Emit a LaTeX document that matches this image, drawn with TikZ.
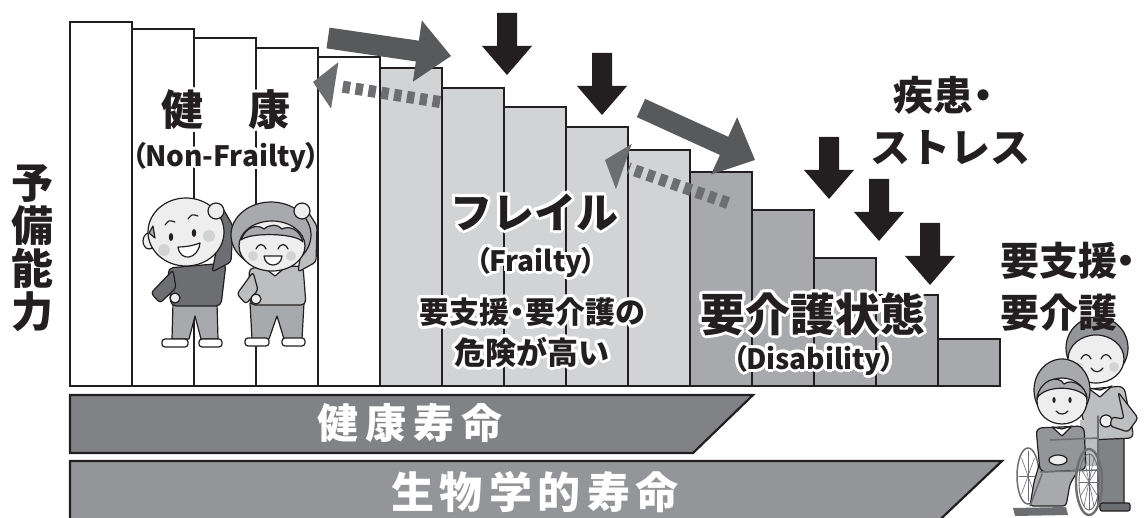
\documentclass[tikz,border=0pt]{standalone}
\usepackage{fontspec}
\setmainfont{Noto Sans CJK JP}
\usetikzlibrary{calc}

\definecolor{barL}{HTML}{D1D3D4}
\definecolor{barM}{HTML}{A7A9AC}
\definecolor{lifeA}{HTML}{808285}
\definecolor{lifeB}{HTML}{939598}
\definecolor{flowC}{HTML}{58595B}
\definecolor{backC}{HTML}{6D6E71}
\definecolor{inkC}{HTML}{231F20}
\definecolor{skinC}{HTML}{EEEEEF}
\definecolor{cheekC}{HTML}{D1D3D4}
\definecolor{hairC}{HTML}{A7A9AC}
\definecolor{clothD}{HTML}{6D6E71}
\definecolor{clothM}{HTML}{A7A9AC}
\definecolor{clothL}{HTML}{BCBEC0}

% text with a white outline
\newcommand\halo[2][3pt]{%
  \begingroup
  \setbox0=\hbox{{\color{white}#2}}%
  \setbox2=\hbox{{#2}}%
  \hbox{%
    \foreach \ang in {0,22.5,...,337.5}{%
      \pgfmathsetlengthmacro\hx{#1*cos(\ang)}%
      \pgfmathsetlengthmacro\hy{#1*sin(\ang)}%
      \rlap{\kern\hx\raise\hy\copy0}%
    }%
    \box2}%
  \endgroup}

% solid block arrow: style, from, to, half shaft, half head, head length
\newcommand\blockarrow[6]{%
  \coordinate (ba-b) at ($(#3)!#6!(#2)$);
  \fill[#1] ($(#2)!#4!90:(#3)$) -- ($(ba-b)!#4!90:(#3)$) -- ($(ba-b)!#5!90:(#3)$)
    -- (#3) -- ($(ba-b)!#5!-90:(#3)$) -- ($(ba-b)!#4!-90:(#3)$) -- ($(#2)!#4!-90:(#3)$) -- cycle;}

% dashed arrow: from, to, half head, head length, shaft end distance
\newcommand\dashedarrow[5]{%
  \coordinate (da-b) at ($(#2)!#4!(#1)$);
  \coordinate (da-g) at ($(#2)!#5!(#1)$);
  \draw[backdash] (#1) -- (da-g);
  \fill[backC] ($(da-b)!#3!90:(#2)$) -- (#2) -- ($(da-b)!#3!-90:(#2)$) -- cycle;}

\begin{document}
\begin{tikzpicture}[x=1pt,y=-1pt,
  barline/.style={draw=inkC, line width=2.4pt},
  lifebar/.style={draw=inkC, line width=2.2pt},
  fig/.style={draw=inkC, line width=1.2pt, line join=round, line cap=round},
  chair/.style={draw=backC, line width=1.5pt, line cap=round},
  backdash/.style={draw=backC, line width=12pt, dash pattern=on 7.5pt off 5.5pt},
  lbl/.style={inner sep=0pt, text=inkC},
  jpL/.style={lbl, font=\fontsize{42pt}{46pt}\selectfont\bfseries},
  jpM/.style={lbl, font=\fontsize{40pt}{44pt}\selectfont\bfseries},
  jpS/.style={lbl, font=\fontsize{30pt}{34pt}\selectfont\bfseries},
  enS/.style={lbl, font=\fontsize{28pt}{32pt}\selectfont\bfseries},
  lifetext/.style={inner sep=0pt, text=white, font=\fontsize{42pt}{46pt}\selectfont\bfseries}
]
\useasboundingbox (0,0) rectangle (1145,518);

% reserve capacity steps
\foreach \i/\t/\c in {0/22/white,1/29/white,2/38/white,3/48/white,4/57/white,
  5/68/barL,6/88/barL,7/107/barL,8/127/barL,9/150/barL,
  10/172/barM,11/210/barM,12/258/barM,13/295/barM,14/339/barM}
  \draw[barline, fill=\c] ({70+62*\i},\t) rectangle ({132+62*\i},386);

% life span bands
\draw[lifebar, fill=lifeA] (70,395) -- (753,395) -- (693,453) -- (70,453) -- cycle;
\draw[lifebar, fill=lifeB] (70,461) -- (1002,461) -- (929,530) -- (70,530) -- cycle;
\node[lifetext, font=\fontsize{41pt}{45pt}\selectfont\bfseries] (healthspan) at (410,423) {健\kern7pt 康\kern7pt 寿\kern7pt 命};
\node[lifetext, font=\fontsize{43pt}{47pt}\selectfont\bfseries] (lifespan) at (535,492) {生\kern6pt 物\kern6pt 学\kern6pt 的\kern6pt 寿\kern6pt 命};

% transitions between stages
\coordinate (backA-s) at (440,102);
\coordinate (backA-e) at (313,82);
\coordinate (backB-s) at (728,203);
\coordinate (backB-e) at (605,160);
\dashedarrow{backA-s}{backA-e}{23.5pt}{22pt}{27pt}
\dashedarrow{backB-s}{backB-e}{24pt}{20pt}{25pt}

\coordinate (flowA-s) at (328,38);
\coordinate (flowA-e) at (451,56);
\coordinate (flowB-s) at (641,108);
\coordinate (flowB-e) at (755,160);
\blockarrow{flowC}{flowA-s}{flowA-e}{10.5pt}{31pt}{34pt}
\blockarrow{flowC}{flowB-s}{flowB-e}{10pt}{31.5pt}{34pt}

% disease and stress pushing down
\foreach \n/\x/\y in {1/507/13,2/602/53,3/829/137,4/879/179,5/930/223}{
  \coordinate (hit\n-s) at (\x,\y);
  \coordinate (hit\n-e) at (\x,\y+62);
  \blockarrow{inkC}{hit\n-s}{hit\n-e}{10pt}{25pt}{29pt}
}

% healthy couple exercising
% man
\draw[fig, fill=clothM] (173,303) -- (217,303) -- (218,339) -- (201,339) -- (195,316) -- (189,339) -- (172,339) -- cycle;
\draw[fig, fill=white, rounded corners=3pt] (162,339) rectangle (188,347);
\draw[fig, fill=white, rounded corners=3pt] (199,339) rectangle (222,347);
\draw[fig, fill=clothD, rounded corners=5pt] (168,268) -- (226,263) -- (221,306) -- (171,306) -- cycle;
\draw[fig, fill=clothD, rounded corners=3pt] (173,270) -- (151,293) -- (160,303) -- (176,288) -- cycle;
\draw[fig, fill=skinC] (175,298) circle[radius=5pt];
\draw[fig, fill=clothD, rounded corners=3pt] (212,272) -- (231,262) -- (233,226) -- (222,207) -- (211,214) -- (220,232) -- cycle;
\draw[fig, fill=skinC] (149,241) ellipse[x radius=6pt, y radius=8pt];
\draw[fig, fill=skinC] (186,232) ellipse[x radius=38pt, y radius=34pt];
\draw[fig, fill=hairC] (149,233) -- (153,226) -- (155,238) -- cycle;
\draw[fig, fill=skinC] (216,211) circle[radius=8pt];
\fill[cheekC] (164,250) circle[radius=6pt];
\fill[cheekC] (209,236) circle[radius=6pt];
\draw[fig] (165,225) .. controls (169,220) .. (175,222);
\draw[fig] (188,219) .. controls (192,214) .. (198,216);
\fill[inkC] (171,237) ellipse[x radius=2.2pt, y radius=4pt];
\fill[inkC] (194,233) ellipse[x radius=2.2pt, y radius=4pt];
\draw[fig, fill=white] (178,247) .. controls (180,262) and (198,260) .. (200,243) .. controls (192,246) and (185,247) .. (178,247) -- cycle;
% woman
\draw[fig, fill=clothM] (250,303) -- (304,303) -- (302,339) -- (284,339) -- (277,316) -- (269,339) -- (252,339) -- cycle;
\draw[fig, fill=white, rounded corners=3pt] (245,338) rectangle (269,346);
\draw[fig, fill=white, rounded corners=3pt] (282,338) rectangle (305,346);
\draw[fig, fill=clothL, rounded corners=5pt] (249,268) -- (303,266) -- (306,305) -- (250,305) -- cycle;
\draw[fig, fill=white] (262,266) -- (275,276) -- (288,265) -- (275,269) -- cycle;
\draw[fig, fill=clothL, rounded corners=3pt] (253,272) -- (237,294) -- (246,304) -- (258,290) -- cycle;
\draw[fig, fill=skinC] (256,299) circle[radius=5pt];
\draw[fig, fill=clothL, rounded corners=3pt] (298,272) -- (316,262) -- (317,226) -- (305,207) -- (295,214) -- (304,231) -- cycle;
\draw[fig, fill=hairC] (271,235) ellipse[x radius=40pt, y radius=33pt];
\draw[fig, fill=skinC] (272,246) ellipse[x radius=33pt, y radius=25pt];
\draw[fig, fill=hairC] (241,240) .. controls (246,226) and (258,224) .. (264,229) .. controls (270,224) and (278,224) .. (282,229) .. controls (290,225) and (300,230) .. (303,242) .. controls (296,233) and (250,232) .. (241,240) -- cycle;
\draw[fig, fill=skinC] (302,211) circle[radius=8pt];
\fill[cheekC] (253,256) circle[radius=5pt];
\fill[cheekC] (291,256) circle[radius=5pt];
\draw[fig] (256,249) .. controls (259,243) and (263,243) .. (266,249);
\draw[fig] (278,249) .. controls (281,243) and (285,243) .. (288,249);
\draw[fig, fill=white] (264,256) .. controls (265,268) and (281,268) .. (282,256) -- cycle;

% carer and wheelchair user
\draw[fig, fill=lifeA, rounded corners=3pt] (1098,432) rectangle (1124,507);
\draw[fig, fill=backC, rounded corners=2pt] (1100,503) rectangle (1130,511);
\draw[fig, fill=clothL, rounded corners=6pt] (1076,390) -- (1124,386) -- (1134,438) -- (1088,440) -- cycle;
\draw[fig, fill=white] (1088,388) -- (1100,397) -- (1112,386) -- (1100,390) -- cycle;
\draw[fig, fill=lifeB] (1097,348) ellipse[x radius=31pt, y radius=31pt];
\draw[fig, fill=skinC] (1096,359) ellipse[x radius=28pt, y radius=24pt];
\fill[cheekC] (1078,367) circle[radius=5pt];
\fill[cheekC] (1114,367) circle[radius=5pt];
\draw[fig] (1081,359) .. controls (1084,353) and (1088,353) .. (1091,359);
\draw[fig] (1101,359) .. controls (1104,353) and (1108,353) .. (1111,359);
\draw[fig] (1091,368) .. controls (1094,373) and (1100,373) .. (1103,368);
\draw[chair] (1028,476) ellipse[x radius=11pt, y radius=28pt];
\foreach \a in {0,45,...,315}
  \draw[chair, line width=0.6pt] (1028,476) -- ++({9*cos(\a)},{25*sin(\a)});
\fill[clothL] (1080,420) rectangle (1097,466);
\draw[chair] (1098,416) -- (1098,472);
\draw[fig, fill=clothM, rounded corners=3pt] (1040,462) -- (1084,460) -- (1070,484) -- (1066,506) -- (1030,506) -- (1034,482) -- cycle;
\draw[fig, fill=lifeB, rounded corners=6pt] (1036,428) -- (1084,426) -- (1086,470) -- (1040,472) -- cycle;
\draw[fig, fill=white] (1052,427) -- (1062,436) -- (1072,426) -- (1062,429) -- cycle;
\draw[fig, fill=skinC] (1058,460) ellipse[x radius=9pt, y radius=5pt];
\draw[fig, fill=hairC] (1062,390) ellipse[x radius=28pt, y radius=31pt];
\draw[fig, fill=skinC] (1062,401) ellipse[x radius=25pt, y radius=23pt];
\draw[fig, fill=hairC] (1037,398) .. controls (1040,380) and (1058,374) .. (1064,384) .. controls (1072,378) and (1086,386) .. (1087,398) .. controls (1080,386) and (1046,384) .. (1037,398) -- cycle;
\fill[inkC] (1054,400) ellipse[x radius=1.6pt, y radius=3pt];
\fill[inkC] (1070,400) ellipse[x radius=1.6pt, y radius=3pt];
\draw[fig] (1056,411) .. controls (1059,415) and (1065,415) .. (1068,411);
\draw[chair] (1050,440) -- (1098,438);
\draw[chair] (1040,472) -- (1100,470);
\draw[chair] (1042,474) -- (1030,506);
\fill[backC] (1013,508) -- (1066,507) -- (1068,515) -- (1015,516) -- cycle;
\draw[chair, line width=2.4pt] (1089,482) ellipse[x radius=13pt, y radius=33pt];
\draw[chair, line width=0.9pt] (1089,482) ellipse[x radius=10pt, y radius=28pt];
\foreach \a in {0,30,...,330}
  \draw[chair, line width=0.6pt] (1089,482) -- ++({10*cos(\a)},{28*sin(\a)});
\draw[fig, fill=skinC] (1106,421) circle[radius=6pt];
\draw[fig, fill=clothL, rounded corners=3pt] (1118,392) -- (1138,418) -- (1128,432) -- (1110,426) -- (1112,417) -- (1124,419) -- cycle;

% labels
\node[jpL] (healthy) at (226,110) {\halo{健\hspace{45pt}康}};
\node[enS] (healthyEn) at (226,157) {\halo{（\kern-2pt Non-Frailty\kern-2pt）}};
\node[jpL] (frail) at (534,212) {\halo{フレイル}};
\node[enS] (frailEn) at (536,262) {\halo{（\kern-2pt Frailty\kern-2pt）}};
\node[jpS] (frailRisk1) at (532,312) {\halo{要支援\kern-7pt・\kern-7pt要介護の}};
\node[jpS, font=\fontsize{31pt}{34pt}\selectfont\bfseries] (frailRisk2) at (532,352) {\halo{危険が高い}};
\node[lbl, font=\fontsize{45pt}{48pt}\selectfont\bfseries] (disabled) at (813,314) {\halo{要介護状態}};
\node[enS] (disabledEn) at (814,360) {\halo{（\kern-2pt Disability\kern-2pt）}};
\node[jpM] (stress1) at (948,95) {疾患\kern-10pt・};
\node[jpM] (stress2) at (950,148) {ストレス};
\node[jpM, anchor=west, font=\fontsize{39pt}{42pt}\selectfont\bfseries] (care1) at (1000,261) {要支援\kern-11pt・};
\node[jpM, anchor=west, font=\fontsize{39pt}{42pt}\selectfont\bfseries] (care2) at (1000,313) {要介護};
\node[lbl, align=center, font=\fontsize{42pt}{43pt}\selectfont\bfseries] (reserve) at (33,248) {予\\備\\能\\力};
\end{tikzpicture}
\end{document}
